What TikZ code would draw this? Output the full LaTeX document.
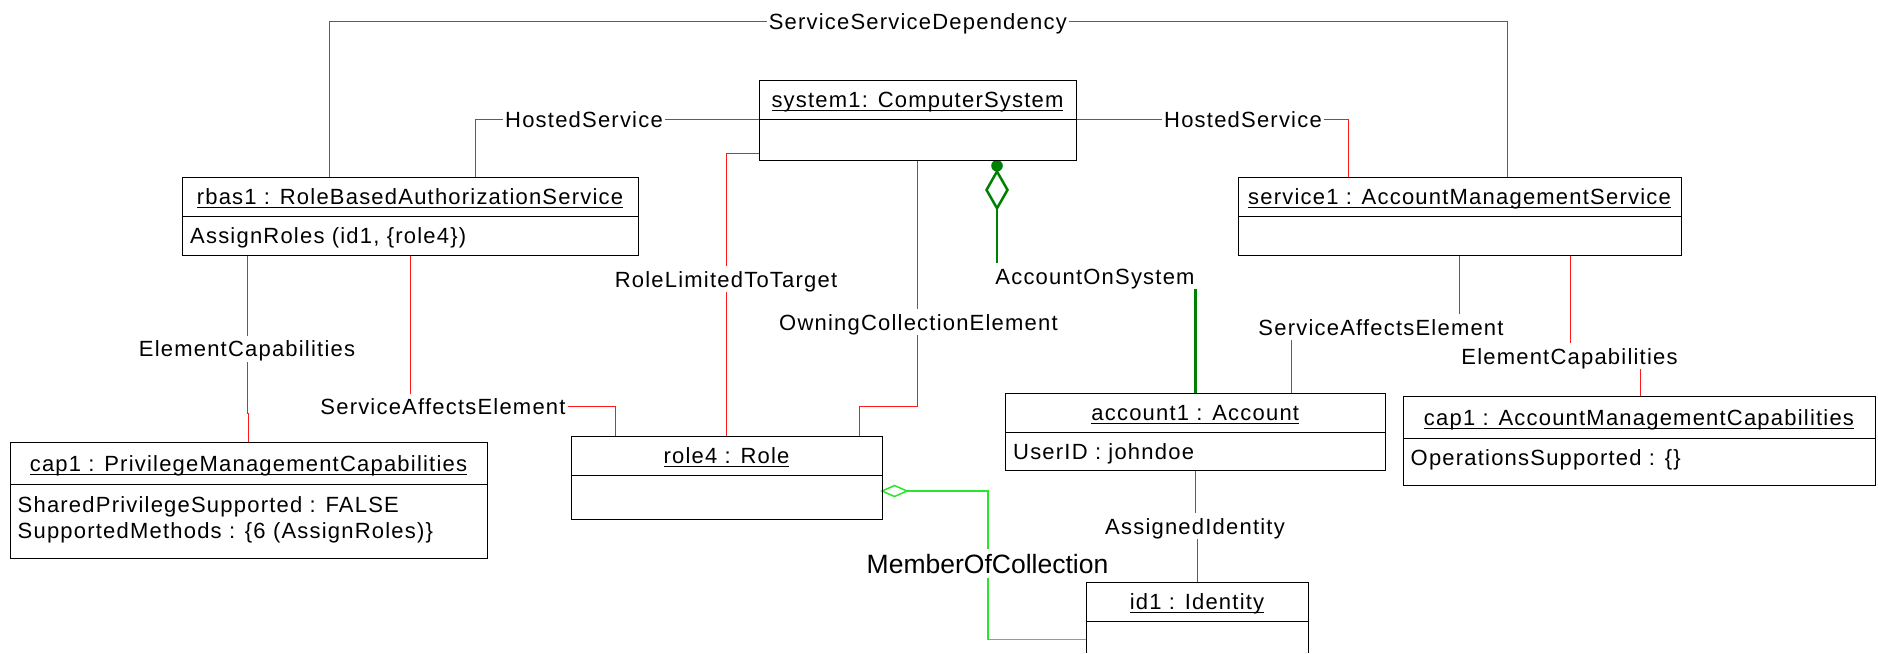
\documentclass[tikz,border=0pt]{standalone}
\usepackage{fontspec}
\setmainfont{Liberation Sans}[LetterSpace=5.5]
\newfontfamily\notrackfont{Liberation Sans}
\usetikzlibrary{calc}

\definecolor{assocred}{RGB}{255,25,25}
\definecolor{aggrgreen}{RGB}{0,128,0}
\definecolor{membergreen}{RGB}{40,230,40}

% underlined object name
\newcommand\uln[1]{\setbox0=\hbox{#1}\rlap{\rule[-3.5pt]{\wd0}{1.2pt}}\box0}

\pgfdeclarelayer{background}
\pgfsetlayers{background,main}

\begin{document}
\begin{tikzpicture}[x=1pt,y=-1pt,
  every node/.style={font=\fontsize{22}{26}\selectfont, inner sep=0pt},
  box/.style={draw=black, line width=1pt, anchor=north west, inner sep=0pt, outer sep=0pt,
              text height=16pt, text depth=0pt},
  attr/.style={anchor=west, inner sep=0pt, text height=16pt, text depth=0pt},
  lbl/.style={fill=white, inner xsep=2pt, inner ysep=5pt, text height=16pt, text depth=0pt},
  assoc/.style={draw=assocred, line width=1pt},
  aggr/.style={draw=aggrgreen, line width=2.5pt},
  member/.style={draw=membergreen, line width=1.5pt}]

\useasboundingbox (0,0) rectangle (1878,653);
\coordinate (pagebottom) at (0,653);

% ---------- objects ----------
\node[box, minimum width=317pt, minimum height=39pt] (sysT) at (759,80) {\uln{system1: ComputerSystem}};
\node[box, minimum width=317pt, minimum height=41pt] (sysA) at (sysT.south west) {};

\node[box, minimum width=456pt, minimum height=39pt] (rbasT) at (182,177) {\uln{rbas1 : RoleBasedAuthorizationService}};
\node[box, minimum width=456pt, minimum height=39pt] (rbasA) at (rbasT.south west) {};
\node[attr] (rbasX) at ([xshift=8pt,yshift=-19.3pt]rbasA.north west) {AssignRoles (id1, \{role4\})};

\node[box, minimum width=443pt, minimum height=39pt] (svcT) at (1238,177) {\uln{service1 : AccountManagementService}};
\node[box, minimum width=443pt, minimum height=39pt] (svcA) at (svcT.south west) {};

\node[box, minimum width=477pt, minimum height=42pt] (pmcT) at (10,442.7) {\uln{cap1 : PrivilegeManagementCapabilities}};
\node[box, minimum width=477pt, minimum height=73.3pt] (pmcA) at (pmcT.south west) {};
\node[attr] (pmcX1) at ([xshift=7.5pt,yshift=-19.3pt]pmcA.north west) {SharedPrivilegeSupported : FALSE};
\node[attr] (pmcX2) at ([xshift=7.5pt,yshift=-45.3pt]pmcA.north west) {SupportedMethods : \{6 (AssignRoles)\}};

\node[box, minimum width=311pt, minimum height=39pt] (roleT) at (571,436) {\uln{role4 : Role}};
\node[box, minimum width=311pt, minimum height=44pt] (roleA) at (roleT.south west) {};

\node[box, minimum width=380.5pt, minimum height=39pt] (acctT) at (1005,393) {\uln{account1 : Account}};
\node[box, minimum width=380.5pt, minimum height=38pt] (acctA) at (acctT.south west) {};
\node[attr] (acctX) at ([xshift=8pt,yshift=-19.3pt]acctA.north west) {UserID : johndoe};

\node[box, minimum width=472pt, minimum height=41.3pt] (amcT) at (1403,396.7) {\uln{cap1 : AccountManagementCapabilities}};
\node[box, minimum width=472pt, minimum height=47pt] (amcA) at (amcT.south west) {};
\node[attr] (amcX) at ([xshift=7.5pt,yshift=-19pt]amcA.north west) {OperationsSupported : \{\}};

\node[box, minimum width=222pt, minimum height=39.7pt] (idT) at (1086,582) {\uln{id1 : Identity}};
\draw[line width=1pt] (idT.south west) -- (idT.south west |- pagebottom);
\draw[line width=1pt] (idT.south east) -- (idT.south east |- pagebottom);

% ---------- association labels ----------
\node[lbl] (ssd)  at (917.8,21.3) {ServiceServiceDependency};
\node[lbl] (hsl)  at (584,119.5)  {HostedService};
\node[lbl] (hsr)  at (1243,119.5) {HostedService};
\node[lbl] (rlt)  at (726,279)    {RoleLimitedToTarget};
\node[lbl] (oce)  at (918.5,322)  {OwningCollectionElement};
\node[lbl] (aos)  at (1095,276)   {AccountOnSystem};
\node[lbl] (ecl)  at (247,348.7)  {ElementCapabilities};
\node[lbl] (sael) at (443,406.7)  {ServiceAffectsElement};
\node[lbl] (saer) at (1381,327)   {ServiceAffectsElement};
\node[lbl] (ecr)  at (1569.5,356) {ElementCapabilities};
\node[lbl] (ai)   at (1195,526)   {AssignedIdentity};
\node[lbl, font=\notrackfont\fontsize{26.5}{30}\selectfont, text height=19pt] (moc) at (987.5,563.7) {MemberOfCollection};

% ---------- connectors ----------
\begin{pgfonlayer}{background}
\draw[assoc] ([xshift=147.5pt]rbasT.north west) |- (ssd.center) -| ([xshift=269pt]svcT.north west);
\draw[assoc] (sysT.south west) -| ([xshift=293pt]rbasT.north west);
\draw[assoc] (sysT.south east) -| ([xshift=110pt]svcT.north west);
\draw[assoc] ([yshift=-34.7pt]sysT.south west) -| ([xshift=155pt]roleT.north west);
\draw[assoc] (sysA.south) -- ++(0,246.7) -| ([xshift=288pt]roleT.north west);
\draw[assoc] ([xshift=65pt]rbasA.south west) -- ++(0,158) -| (pmcT.north);
\draw[assoc] (rbasA.south) -- ++(0,151.7) -| ([xshift=44pt]roleT.north west);
\draw[assoc] ([xshift=221pt]svcA.south west) -- ++(0,72) -| ([xshift=286pt]acctT.north west);
\draw[assoc] ([xshift=332pt]svcA.south west) -- ++(0,101) -| ([xshift=237pt]amcT.north west);
\draw[assoc] (acctA.south) -- ++(0,56) -| (idT.north);

% aggregation: system1 <>-- account1
\coordinate (aosTop) at ([xshift=238pt]sysA.south west);
\fill[aggrgreen] ([yshift=-5.8pt]aosTop) circle (5.8pt);
\draw[aggr, line join=miter] ([yshift=-11.5pt]aosTop) -- ++(10.5,18.4) -- ++(-10.5,18.4) -- ++(-10.5,-18.4) -- cycle;
\draw[aggr] ([yshift=-48.3pt]aosTop) -- ++(0,67.7) -| (acctT.north);

% aggregation: role4 <>-- id1
\coordinate (mocStart) at ([yshift=-16pt]roleA.north east);
\draw[member] (mocStart) -- ++(12.5,-5.5) -- ++(12.5,5.5) -- ++(-12.5,5.5) -- cycle;
\draw[member] ([xshift=25pt]mocStart) -| ([xshift=-98pt,yshift=-17.6pt]idT.south west) -- ([yshift=-17.6pt]idT.south west);
\end{pgfonlayer}
\end{tikzpicture}
\end{document}
